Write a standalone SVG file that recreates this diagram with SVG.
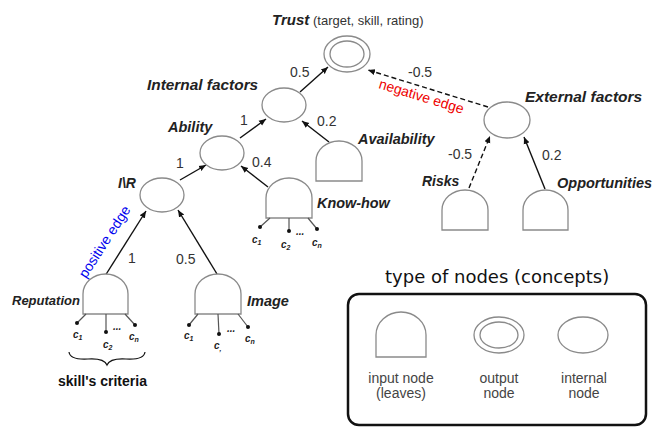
<svg xmlns="http://www.w3.org/2000/svg" width="654" height="430" viewBox="0 0 654 430">
<style>
.nd{fill:#fff;stroke:#8a8a8a;stroke-width:1.3}
.lbl{font-family:"Liberation Sans",Arial,sans-serif;font-weight:bold;font-style:italic;fill:#222}
.w{font-family:"Liberation Sans",Arial,sans-serif;font-size:14px;fill:#333}
.e{stroke:#111;stroke-width:1.4;fill:none}
.d{stroke-dasharray:5,3}
.cr{stroke:#555;stroke-width:1.2}
.dot{fill:#111}
.c{font-family:"Liberation Sans",Arial,sans-serif;font-weight:bold;font-style:italic;font-size:10px;fill:#222}
.s{font-size:7px}
.lg{font-family:"Liberation Sans",Arial,sans-serif;font-size:14px;fill:#444;text-anchor:middle}
</style>
<defs>
<marker id="ah" markerWidth="8" markerHeight="8" refX="7" refY="4" orient="auto" markerUnits="userSpaceOnUse">
<path d="M0,1 L7,4 L0,7 Z" fill="#111"/>
</marker>
</defs>
<rect width="654" height="430" fill="#fff"/>

<g id="connectors">
<line class="e" x1="300" y1="92" x2="328" y2="67" marker-end="url(#ah)"/>
<line class="e d" x1="488" y1="107" x2="368" y2="70" marker-end="url(#ah)"/>
<line class="e" x1="240" y1="138" x2="266" y2="119" marker-end="url(#ah)"/>
<line class="e" x1="329" y1="142" x2="302" y2="121" marker-end="url(#ah)"/>
<line class="e" x1="180" y1="180" x2="206" y2="165" marker-end="url(#ah)"/>
<line class="e" x1="268" y1="187" x2="241" y2="166" marker-end="url(#ah)"/>
<line class="e" x1="105" y1="276" x2="146" y2="211" marker-end="url(#ah)"/>
<line class="e" x1="217" y1="274" x2="178" y2="210" marker-end="url(#ah)"/>
<line class="e d" x1="469" y1="188" x2="490" y2="136" marker-end="url(#ah)"/>
<line class="e" x1="545" y1="189" x2="524" y2="137" marker-end="url(#ah)"/>
<text class="w" x="290" y="77">0.5</text>
<text class="w" x="408" y="77">-0.5</text>
<text class="w" x="240" y="125">1</text>
<text class="w" x="317" y="126">0.2</text>
<text class="w" x="176" y="168">1</text>
<text class="w" x="252" y="167">0.4</text>
<text class="w" x="128" y="263">1</text>
<text class="w" x="176" y="264">0.5</text>
<text class="w" x="448" y="159">-0.5</text>
<text class="w" x="542" y="160">0.2</text>
<text font-family="Liberation Sans,Arial,sans-serif" font-size="14" fill="#e00" transform="translate(378,88) rotate(17)">negative edge</text>
<text font-family="Liberation Sans,Arial,sans-serif" font-size="14" fill="#00e" transform="translate(86,279) rotate(-57)">positive edge</text>
</g>

<g id="trust">
<ellipse class="nd" cx="347" cy="54" rx="23" ry="18"/>
<ellipse class="nd" cx="347" cy="54" rx="17" ry="13"/>
<text x="272" y="25" class="lbl" font-size="15">Trust</text>
<text x="313" y="25" font-family="Liberation Sans,Arial,sans-serif" font-size="13" fill="#333">(target, skill, rating)</text>
</g>

<g id="internal-factors">
<ellipse class="nd" cx="284" cy="105" rx="22" ry="17"/>
<text x="147" y="90" class="lbl" font-size="15.4">Internal factors</text>
</g>

<g id="ability">
<ellipse class="nd" cx="222" cy="153" rx="22" ry="17"/>
<text x="168" y="132" class="lbl" font-size="14.5">Ability</text>
</g>

<g id="ir">
<ellipse class="nd" cx="162" cy="195" rx="22" ry="17"/>
<text x="118" y="188" class="lbl" font-size="14">I\R</text>
</g>

<g id="external-factors">
<ellipse class="nd" cx="507" cy="120" rx="23" ry="18"/>
<text x="525" y="102" class="lbl" font-size="15.5">External factors</text>
</g>

<g id="availability">
<path class="nd" d="M316,181 V161 A23,20 0 0 1 362,161 V181 Z"/>
<text x="358" y="144" class="lbl" font-size="14.5">Availability</text>
</g>

<g id="know-how">
<path class="nd" d="M266,218 V198 A23,20 0 0 1 312,198 V218 Z"/>
<line class="cr" x1="270" y1="218" x2="260" y2="227"/>
<line class="cr" x1="289" y1="218" x2="289" y2="231"/>
<line class="cr" x1="308" y1="218" x2="317" y2="229"/>
<circle class="dot" cx="260" cy="227" r="2"/>
<circle class="dot" cx="289" cy="231" r="2"/>
<circle class="dot" cx="317" cy="229" r="2"/>
<text class="c" x="296" y="235">...</text>
<text class="c" x="252" y="243">c<tspan class="s" dy="2">1</tspan></text>
<text class="c" x="281" y="248">c<tspan class="s" dy="2">2</tspan></text>
<text class="c" x="312" y="246">c<tspan class="s" dy="2">n</tspan></text>
<text x="317" y="208" class="lbl" font-size="14.4">Know-how</text>
</g>

<g id="reputation">
<path class="nd" d="M83,314 V294 A22.5,20 0 0 1 128,294 V314 Z"/>
<line class="cr" x1="86" y1="314" x2="77" y2="323"/>
<line class="cr" x1="106" y1="314" x2="106" y2="332"/>
<line class="cr" x1="125" y1="314" x2="135" y2="325"/>
<circle class="dot" cx="77" cy="323" r="2"/>
<circle class="dot" cx="106" cy="332" r="2"/>
<circle class="dot" cx="135" cy="325" r="2"/>
<text class="c" x="113" y="330">...</text>
<text class="c" x="73" y="338">c<tspan class="s" dy="2">1</tspan></text>
<text class="c" x="103" y="348">c<tspan class="s" dy="2">2</tspan></text>
<text class="c" x="129" y="340">c<tspan class="s" dy="2">n</tspan></text>
<text x="12" y="305" class="lbl" font-size="13">Reputation</text>
</g>

<g id="image">
<path class="nd" d="M195,314 V294 A23,20 0 0 1 241,294 V314 Z"/>
<line class="cr" x1="198" y1="314" x2="189" y2="325"/>
<line class="cr" x1="218" y1="314" x2="219" y2="334"/>
<line class="cr" x1="238" y1="314" x2="248" y2="327"/>
<circle class="dot" cx="189" cy="325" r="2"/>
<circle class="dot" cx="219" cy="334" r="2"/>
<circle class="dot" cx="248" cy="327" r="2"/>
<text class="c" x="227" y="332">...</text>
<text class="c" x="184" y="339">c<tspan class="s" dy="2">1</tspan></text>
<text class="c" x="214" y="349">c<tspan class="s" dy="2">,</tspan></text>
<text class="c" x="245" y="342">c<tspan class="s" dy="2">n</tspan></text>
<text x="247" y="306" class="lbl" font-size="14.5">Image</text>
</g>

<g id="risks">
<path class="nd" d="M442,230 V210 A23,20 0 0 1 488,210 V230 Z"/>
<text x="422" y="186" class="lbl" font-size="14">Risks</text>
</g>

<g id="opportunities">
<path class="nd" d="M523,230 V210 A22.5,20 0 0 1 568,210 V230 Z"/>
<text x="557" y="188" class="lbl" font-size="14.5">Opportunities</text>
</g>

<g id="criteria">
<path d="M69,352 Q70,360 88,359 Q104,358 107,365 Q110,358 126,359 Q144,360 145,352" fill="none" stroke="#111" stroke-width="1.2"/>
<text x="58" y="386" font-family="Liberation Sans,Arial,sans-serif" font-weight="bold" font-size="14" fill="#111">skill's criteria</text>
</g>

<g id="legend">
<text x="385" y="283" font-family="DejaVu Sans,sans-serif" font-size="18" fill="#111">type of nodes (concepts)</text>
<rect x="348" y="294" width="298" height="131" rx="11" fill="none" stroke="#111" stroke-width="2.5"/>
<path class="nd" d="M376,357 V335 A25,23 0 0 1 426,335 V357 Z"/>
<ellipse class="nd" cx="499" cy="335" rx="25" ry="18"/>
<ellipse class="nd" cx="499" cy="335" rx="19" ry="13"/>
<ellipse class="nd" cx="583" cy="335" rx="25" ry="18"/>
<text class="lg" x="401" y="383">input node</text>
<text class="lg" x="401" y="398">(leaves)</text>
<text class="lg" x="499" y="383">output</text>
<text class="lg" x="499" y="398">node</text>
<text class="lg" x="584" y="383">internal</text>
<text class="lg" x="584" y="398">node</text>
</g>
</svg>
